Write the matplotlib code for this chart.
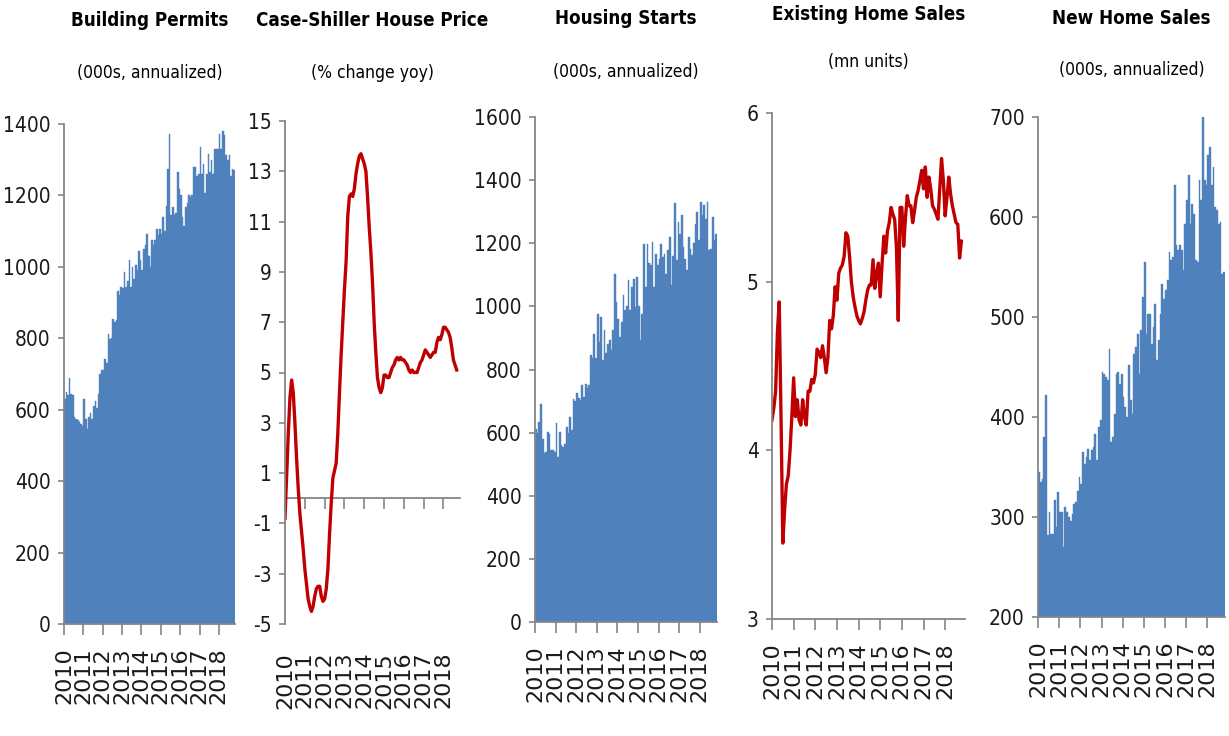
import numpy as np
import matplotlib
matplotlib.use("Agg")
import matplotlib.pyplot as plt
from matplotlib import font_manager as fm

# monthly data, Jan 2010 - Oct 2018
years = [str(y) for y in range(2010, 2019)]

permits = [630, 650, 640, 690, 645, 640, 580, 575, 570, 565, 560, 555,
           630, 575, 545, 580, 590, 575, 610, 625, 605, 645, 700, 712,
           710, 742, 730, 812, 798, 800, 854, 845, 850, 933, 921, 943,
           940, 985, 943, 960, 1020, 943, 1000, 965, 1005, 990, 1045, 1020,
           990, 1050, 1060, 1092, 1030, 1000, 1075, 1060, 1075, 1107, 1090, 1107,
           1092, 1140, 1100, 1171, 1274, 1372, 1145, 1168, 1145, 1150, 1265, 1218,
           1200, 1140, 1115, 1168, 1180, 1200, 1195, 1200, 1279, 1279, 1255, 1260,
           1335, 1260, 1288, 1207, 1260, 1316, 1265, 1300, 1260, 1330, 1330, 1330,
           1372, 1330, 1381, 1368, 1312, 1300, 1312, 1255, 1274, 1270]

case_shiller = [-0.8, 0.9, 2.6, 4.0, 4.7, 4.2, 3.0, 1.6, 0.4, -0.6, -1.3, -2.0,
                -2.8, -3.4, -4.0, -4.3, -4.5, -4.3, -3.9, -3.6, -3.5, -3.5, -3.9, -4.1,
                -4.0, -3.6, -2.8, -1.4, -0.2, 0.8, 1.1, 1.4, 2.6, 4.2, 5.7, 7.0,
                8.3, 9.4, 11.2, 12.0, 12.1, 12.0, 12.3, 12.9, 13.3, 13.6, 13.7, 13.5,
                13.3, 13.0, 12.0, 10.8, 9.8, 8.6, 7.0, 5.8, 4.8, 4.4, 4.2, 4.4,
                4.9, 4.9, 4.8, 4.8, 5.0, 5.2, 5.3, 5.5, 5.6, 5.5, 5.6, 5.5,
                5.5, 5.4, 5.3, 5.1, 5.0, 5.1, 5.0, 5.0, 5.0, 5.2, 5.4, 5.5,
                5.7, 5.9, 5.8, 5.7, 5.6, 5.7, 5.8, 5.8, 6.2, 6.4, 6.3, 6.5,
                6.8, 6.8, 6.7, 6.6, 6.4, 6.0, 5.5, 5.3, 5.1]

starts = [613, 600, 634, 692, 581, 534, 540, 602, 597, 544, 545, 539,
          629, 523, 602, 560, 555, 565, 618, 600, 650, 607, 708, 700,
          724, 710, 703, 750, 713, 755, 740, 750, 845, 835, 914, 835,
          977, 888, 966, 830, 925, 851, 880, 893, 861, 925, 1104, 1014,
          960, 903, 951, 1035, 988, 1000, 1083, 988, 1062, 1088, 998, 1093,
          1000, 893, 977, 1199, 1062, 1199, 1136, 1130, 1204, 1062, 1167, 1130,
          1150, 1199, 1157, 1167, 1104, 1180, 1220, 1067, 1160, 1326, 1146, 1267,
          1230, 1288, 1188, 1150, 1114, 1220, 1183, 1162, 1200, 1262, 1299, 1209,
          1330, 1288, 1320, 1278, 1330, 1178, 1183, 1283, 1209, 1230]

existing = [4.18, 4.25, 4.35, 4.70, 4.88, 4.20, 3.45, 3.65, 3.80, 3.85, 4.00, 4.20,
            4.43, 4.20, 4.30, 4.18, 4.15, 4.30, 4.20, 4.15, 4.35, 4.35, 4.42, 4.40,
            4.45, 4.60, 4.58, 4.55, 4.62, 4.55, 4.46, 4.55, 4.77, 4.72, 4.80, 4.97,
            4.89, 5.05, 5.08, 5.10, 5.15, 5.29, 5.27, 5.15, 5.00, 4.91, 4.85, 4.80,
            4.77, 4.75, 4.78, 4.82, 4.89, 4.95, 4.98, 4.98, 5.13, 4.96, 5.05, 5.11,
            4.91, 5.10, 5.27, 5.17, 5.30, 5.35, 5.44, 5.40, 5.37, 5.20, 4.77, 5.44,
            5.44, 5.21, 5.38, 5.51, 5.45, 5.45, 5.35, 5.42, 5.50, 5.54, 5.60, 5.66,
            5.55, 5.68, 5.50, 5.62, 5.55, 5.45, 5.43, 5.40, 5.37, 5.55, 5.73, 5.60,
            5.39, 5.50, 5.62, 5.52, 5.45, 5.40, 5.35, 5.34, 5.14, 5.24]

new_sales = [345, 335, 338, 380, 422, 282, 305, 283, 283, 317, 290, 325,
             305, 305, 270, 310, 305, 300, 296, 303, 313, 315, 326, 340,
             333, 365, 353, 360, 368, 357, 367, 370, 383, 357, 390, 397,
             445, 443, 440, 437, 468, 375, 380, 403, 443, 445, 433, 443,
             420, 410, 400, 452, 417, 403, 463, 470, 483, 443, 487, 520,
             555, 483, 503, 503, 473, 490, 513, 457, 477, 503, 533, 518,
             527, 537, 565, 557, 560, 632, 572, 567, 572, 567, 547, 593,
             617, 642, 593, 613, 603, 557, 555, 637, 617, 700, 637, 632,
             662, 670, 632, 650, 610, 607, 593, 595, 543, 545]

BLUE = "#4F81BD"
RED = "#C00000"
GRAY = "#868686"


def stretch_val(s):
    if isinstance(s, str):
        return fm.stretch_dict.get(s, 500)
    return s


def weight_val(w):
    if isinstance(w, str):
        return fm.weight_dict.get(w, 400)
    return w


def find_narrow(bold):
    # look for an installed narrow / condensed sans face
    target = 700 if bold else 400
    best, best_score = None, None
    for f in fm.fontManager.ttflist:
        nm = f.name.lower()
        if "mono" in nm or "serif" in nm or "cjk" in nm:
            continue
        st = stretch_val(f.stretch)
        is_narrow = "narrow" in nm or "condensed" in nm or st < 500
        if not is_narrow:
            continue
        if "italic" in f.style or "oblique" in f.style:
            continue
        if "narrow" in nm or "condensed" in nm:
            st = min(st, 300)
        score = abs(st - 300) / 100.0 + abs(weight_val(f.weight) - target) / 100.0
        if score < 1.0 and (best_score is None or score < best_score):
            best, best_score = f, score
    if best is None:
        return None
    return fm.FontProperties(fname=best.fname)


reg_fp = find_narrow(False)
bold_fp = find_narrow(True)
if reg_fp is not None:
    tsize, ssize, ysize = 13.5, 12.5, 15
else:
    reg_fp = fm.FontProperties(family="DejaVu Sans")
    bold_fp = fm.FontProperties(family="DejaVu Sans", weight="bold")
    tsize, ssize, ysize = 12, 11, 13
if bold_fp is None:
    bold_fp = reg_fp.copy()
    bold_fp.set_weight("bold")

fig = plt.figure(figsize=(12.29, 7.36), dpi=100)


def panel(px, title, sub, kind, data, ylim, yticks, zero_axis=False):
    left, right, top, bottom = px
    W, H = 1229.0, 736.0
    ax = fig.add_axes([left / W, 1 - bottom / H, (right - left) / W, (bottom - top) / H])
    x = np.arange(len(data))
    if kind == "bar":
        ax.bar(x, data, width=1.0, color=BLUE, edgecolor=BLUE, linewidth=0.3)
        ax.set_xlim(-0.5, len(data) - 0.5)
        ticks = np.arange(len(years)) * 12 - 0.5
    else:
        ax.plot(x, data, color=RED, lw=2.4, solid_joinstyle="round")
        ax.set_xlim(0, len(data) + 1)
        ticks = np.arange(len(years)) * 12
    ax.set_ylim(*ylim)
    ax.set_yticks(yticks)
    ylab_fp = reg_fp.copy()
    ylab_fp.set_size(ysize)
    ax.set_yticklabels([str(v) for v in yticks], fontproperties=ylab_fp, color="#1a1a1a")
    for s in ["top", "right"]:
        ax.spines[s].set_visible(False)
    ax.spines["left"].set_color(GRAY)
    ax.spines["left"].set_linewidth(1.3)
    ax.tick_params(axis="y", direction="out", length=4.5, width=1.2, color=GRAY, pad=5)

    ax.set_xticks(ticks)
    ax.set_xticklabels(years, rotation=90, family="DejaVu Sans", fontsize=16, color="#1a1a1a")
    if zero_axis:
        ax.spines["bottom"].set_visible(False)
        ax.tick_params(axis="x", length=0, pad=20)
        sec = ax.secondary_xaxis((0 - ylim[0]) / (ylim[1] - ylim[0]))
        sec.set_xticks(ticks)
        sec.set_xticklabels([])
        sec.spines["bottom"].set_color(GRAY)
        sec.spines["bottom"].set_linewidth(1.3)
        sec.tick_params(axis="x", direction="out", length=8, width=1.2, color=GRAY)
    else:
        ax.spines["bottom"].set_color(GRAY)
        ax.spines["bottom"].set_linewidth(1.3)
        ax.tick_params(axis="x", direction="out", length=8, width=1.2, color=GRAY, pad=9)

    cx = (left + right) / 2.0
    t_fp = bold_fp.copy()
    t_fp.set_size(tsize)
    s_fp = reg_fp.copy()
    s_fp.set_size(ssize)
    fig.text(cx / W, 1 - title[1] / H, title[0], ha="center", va="center", fontproperties=t_fp)
    fig.text(cx / W, 1 - sub[1] / H, sub[0], ha="center", va="center", fontproperties=s_fp)
    return ax


panel((64, 235, 124, 624), ("Building Permits", 20), ("(000s, annualized)", 73),
      "bar", permits, (0, 1400), list(range(0, 1401, 200)))
panel((285, 460, 121, 624), ("Case-Shiller House Price", 20), ("(% change yoy)", 73),
      "line", case_shiller, (-5, 15), list(range(-5, 16, 2)), zero_axis=True)
panel((535, 717, 117, 622), ("Housing Starts", 18), ("(000s, annualized)", 72),
      "bar", starts, (0, 1600), list(range(0, 1601, 200)))
panel((772, 965, 113, 619), ("Existing Home Sales", 14), ("(mn units)", 62),
      "line", existing, (3, 6), [3, 4, 5, 6])
panel((1038, 1225, 117, 617), ("New Home Sales", 18), ("(000s, annualized)", 70),
      "bar", new_sales, (200, 700), list(range(200, 701, 100)))

fig.savefig("out.png", dpi=100)
